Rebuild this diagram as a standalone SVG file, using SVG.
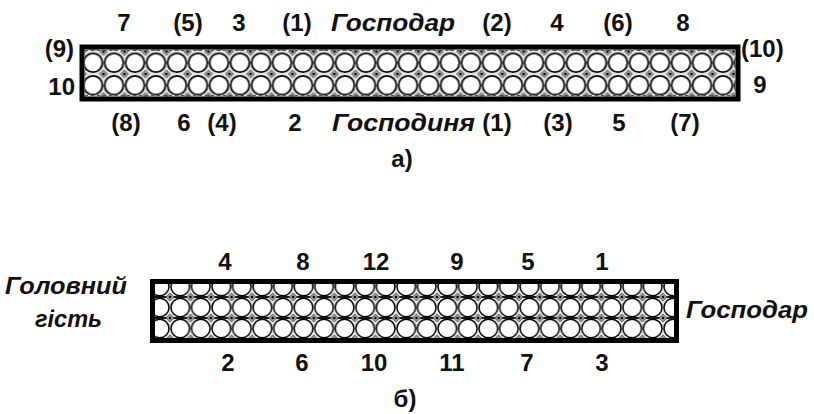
<svg xmlns="http://www.w3.org/2000/svg" width="814" height="414" viewBox="0 0 814 414">
<style>
.t{font-family:"Liberation Sans",Arial,sans-serif;font-weight:bold;font-size:24px;fill:#111;}
.c{text-anchor:middle;}
.e{text-anchor:end;}
.i{font-style:italic;}
.frame{fill:none;stroke:#000;stroke-width:5;}
</style>
<defs>
<g id="dm">
<path d="M0,-4 L4,0 L0,4 L-4,0Z" fill="#9a9a9a" stroke="#444" stroke-width="0.7"/>
<circle r="1.2" fill="#000"/>
</g>
<pattern id="pa" x="82.5" y="51.5" width="21" height="22.5" patternUnits="userSpaceOnUse">
<rect width="21" height="22.5" fill="#e6e6e6"/>
<circle cx="10.5" cy="11.25" r="9.4" fill="#fff" stroke="#000" stroke-width="1.8"/>
<use href="#dm" x="0" y="0"/>
<use href="#dm" x="21" y="0"/>
<use href="#dm" x="0" y="22.5"/>
<use href="#dm" x="21" y="22.5"/>
</pattern>
<pattern id="pb" x="170" y="276" width="20.54" height="21" patternUnits="userSpaceOnUse">
<rect width="20.54" height="21" fill="#e6e6e6"/>
<circle cx="10.27" cy="10.5" r="9.3" fill="#fff" stroke="#000" stroke-width="1.5"/>
<line x1="0" y1="0" x2="20.54" y2="0" stroke="#000" stroke-width="1.8"/>
<line x1="0" y1="21" x2="20.54" y2="21" stroke="#000" stroke-width="1.8"/>
<use href="#dm" x="0" y="0"/>
<use href="#dm" x="20.54" y="0"/>
<use href="#dm" x="0" y="21"/>
<use href="#dm" x="20.54" y="21"/>
</pattern>
</defs>
<rect width="814" height="414" fill="#fff"/>

<g id="table-a">
<rect x="84.5" y="49.5" width="651" height="47" fill="url(#pa)"/>
<line x1="85" y1="50.5" x2="735" y2="50.5" stroke="#555" stroke-width="1.2" stroke-dasharray="3 3"/>
<line x1="85" y1="95.5" x2="735" y2="95.5" stroke="#555" stroke-width="1.2" stroke-dasharray="3 3"/>
<rect class="frame" x="82" y="47" width="656" height="52"/>
</g>

<g id="table-b">
<rect x="155" y="284" width="521.5" height="54.5" fill="url(#pb)"/>
<rect class="frame" x="152.5" y="281.5" width="524" height="59"/>
</g>

<g id="labels-a">
<text class="t c" x="124" y="31">7</text>
<text class="t c" x="188" y="31">(5)</text>
<text class="t c" x="239" y="31">3</text>
<text class="t c" x="297" y="31">(1)</text>
<text class="t i" x="331" y="31" textLength="124" lengthAdjust="spacingAndGlyphs">Господар</text>
<text class="t c" x="497" y="31">(2)</text>
<text class="t c" x="557" y="31">4</text>
<text class="t c" x="618" y="31">(6)</text>
<text class="t c" x="683" y="31">8</text>
<text class="t e" x="74" y="57">(9)</text>
<text class="t e" x="75" y="95">10</text>
<text class="t" x="741" y="57">(10)</text>
<text class="t c" x="760" y="93">9</text>
<text class="t c" x="126" y="131">(8)</text>
<text class="t c" x="184" y="131">6</text>
<text class="t c" x="222" y="131">(4)</text>
<text class="t c" x="295" y="131">2</text>
<text class="t i" x="332" y="131" textLength="143" lengthAdjust="spacingAndGlyphs">Господиня</text>
<text class="t c" x="497" y="131">(1)</text>
<text class="t c" x="558" y="131">(3)</text>
<text class="t c" x="619" y="131">5</text>
<text class="t c" x="685" y="131">(7)</text>
<text class="t c" x="402" y="167">а)</text>
</g>

<g id="labels-b">
<text class="t c" x="225" y="270">4</text>
<text class="t c" x="303" y="270">8</text>
<text class="t c" x="376" y="270">12</text>
<text class="t c" x="457" y="270">9</text>
<text class="t c" x="528" y="270">5</text>
<text class="t c" x="602" y="270">1</text>
<text class="t c" x="228" y="371">2</text>
<text class="t c" x="302" y="371">6</text>
<text class="t c" x="374" y="371">10</text>
<text class="t c" x="452" y="371">11</text>
<text class="t c" x="527" y="371">7</text>
<text class="t c" x="602" y="371">3</text>
<text class="t i" x="5" y="294" textLength="122" lengthAdjust="spacingAndGlyphs">Головний</text>
<text class="t i" x="35" y="327" textLength="67" lengthAdjust="spacingAndGlyphs">гість</text>
<text class="t i" x="686" y="318" textLength="122" lengthAdjust="spacingAndGlyphs">Господар</text>
<text class="t c" x="405" y="407">б)</text>
</g>
</svg>
